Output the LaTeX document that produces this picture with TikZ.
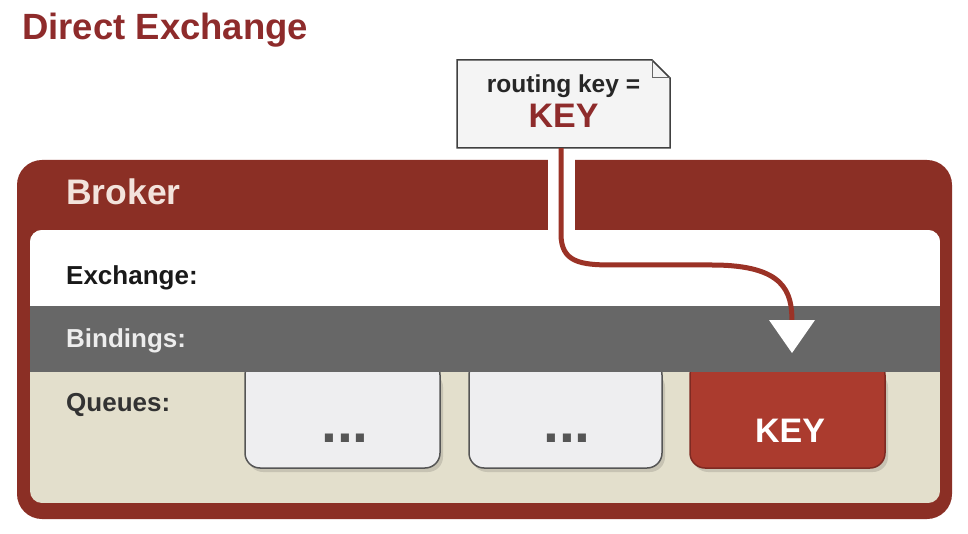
\documentclass[tikz,border=0pt]{standalone}
\usepackage{fontspec}
\setmainfont{Liberation Sans}
\definecolor{titlered}{HTML}{8E2B2B}
\definecolor{brokerred}{HTML}{8B2F25}
\definecolor{bandgray}{HTML}{676767}
\definecolor{beige}{HTML}{E3DFCC}
\definecolor{qfill}{HTML}{EEEEF0}
\definecolor{qedge}{HTML}{555555}
\definecolor{keyred}{HTML}{AB3B2E}
\definecolor{keyedge}{HTML}{7E2A22}
\definecolor{brokertext}{HTML}{F3E3DC}
\definecolor{notefill}{HTML}{F4F4F4}
\definecolor{routeline}{HTML}{9B3226}
\tikzset{
  fs/.style={font=\fontsize{#1}{#1}\selectfont\bfseries},
  rowlabel/.style={anchor=base west, inner sep=0pt, fs=26},
  qbox/.style={draw=qedge, line width=1.5pt, fill=qfill},
  keybox/.style={draw=keyedge, line width=1.5pt, fill=keyred},
  route/.style={draw=routeline, line width=5pt},
}
\begin{document}
\begin{tikzpicture}[x=1pt,y=-1pt]
\useasboundingbox[fill=white] (0,0) rectangle (968,534);
% title
\node[anchor=base west, inner sep=0pt, fs=36.5, text=titlered] (title) at (22,40) {Direct Exchange};
% broker outer
\fill[brokerred, rounded corners=25] (17,160) rectangle (952,519);
% gap in header for the route line
\fill[white] (548,158) rectangle (575,231);
% inner area
\begin{scope}
\clip[rounded corners=12] (30,230) rectangle (940,503);
\fill[beige] (30,230) rectangle (940,503);
% queue shadows
\foreach \a/\b in {245/440,469/662,690/885}{
  \fill[black, opacity=0.12, rounded corners=15] (\a+3,372) -- (\a+3,472) -- (\b+3,472) -- (\b+3,372) -- cycle;
}
% queue boxes
\path[qbox, rounded corners=15] (245,360) -- (245,468) -- (440,468) -- (440,360) -- cycle;
\path[qbox, rounded corners=15] (469,360) -- (469,468) -- (662,468) -- (662,360) -- cycle;
\path[keybox, rounded corners=15] (690,360) -- (690,468) -- (885,468) -- (885,360) -- cycle;
\fill[white] (30,230) rectangle (940,306);
\fill[bandgray] (30,306) rectangle (940,372);
\end{scope}
% queue contents
\node[anchor=base, inner sep=0pt, fs=57, text=qedge] (q1) at (345,442) {...};
\node[anchor=base, inner sep=0pt, fs=57, text=qedge] (q2) at (567,442) {...};
\node[anchor=base, inner sep=0pt, fs=34, text=white] (q3) at (790,442) {KEY};
% labels
\node[anchor=base west, inner sep=0pt, fs=35.5, text=brokertext] (broker) at (66,205) {Broker};
\node[rowlabel, text=black!90] (exch) at (66,284) {Exchange:};
\node[rowlabel, text=white!93!black] (bind) at (66,347) {Bindings:};
\node[rowlabel, text=black!80] (queues) at (66,411) {Queues:};
% routing key note
\node[minimum width=213pt, minimum height=88pt, inner sep=0pt] (note) at (563.5,104) {};
\path[draw=black!75, line width=1.5pt, fill=notefill] (457,60) -- (652,60) -- (670,78) -- (670,148) -- (457,148) -- cycle;
\draw[black!60, line width=1pt] (652,60) -- (652,78) -- (670,78);
\node[anchor=base, inner sep=0pt, fs=24.5, text=black!85] (rk) at (563.5,93) {routing key =};
\node[anchor=base, inner sep=0pt, fs=34, text=titlered] (rkkey) at (563.5,128) {KEY};
% route line and arrowhead
\coordinate (tip) at (792,322);
\draw[route] (note.south -| 561,0) -- (561,234) .. controls (561,262) and (580,265) .. (612,265) -- (712,265) .. controls (785,265) and (792,292) .. (tip);
\path[fill=white] (769,320) -- (815,320) -- (792,353) -- cycle;
\end{tikzpicture}
\end{document}
